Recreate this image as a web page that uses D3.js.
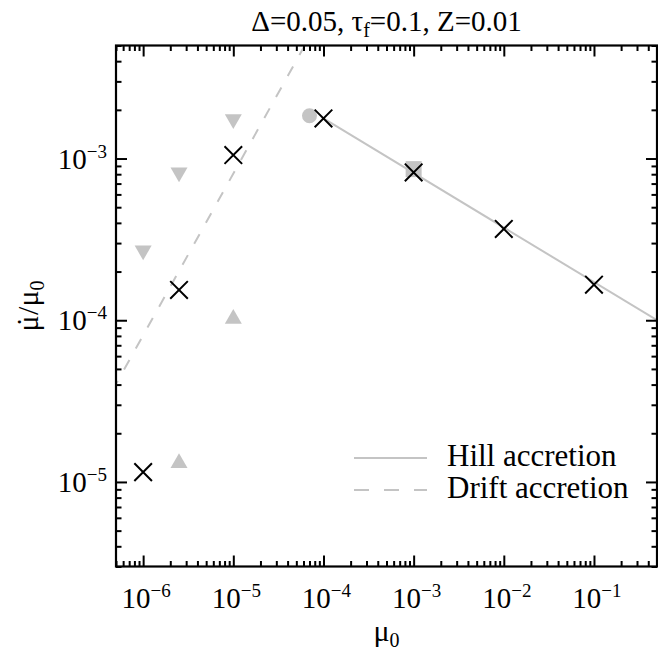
<!DOCTYPE html>
<html><head><meta charset="utf-8">
<script src="https://cdn.jsdelivr.net/npm/d3@7"></script>
</head>
<body style="margin:0">
<svg id="s" width="658" height="657"></svg>
<script>
// ---- data ----
const titleText = ["Δ=0.05, τ", "f", "=0.1, Z=0.01"];
const xTickExps = [-6, -5, -4, -3, -2, -1];
const yTickExps = [-5, -4, -3];
const crossX = [1e-6, 2.5e-6, 1e-5, 1e-4, 1e-3, 1e-2, 1e-1];
const crossY = [1.15e-5, 1.54e-4, 1.05e-3, 1.77e-3, 8.2e-4, 3.67e-4, 1.66e-4];
const downTriX = [1e-6, 2.5e-6, 1e-5];
const downTriY = [2.7e-4, 8.2e-4, 1.75e-3];
const upTriX = [2.5e-6, 1e-5];
const upTriY = [1.31e-5, 1.02e-4];
const circleX = [7.0e-5];
const circleY = [1.84e-3];
const squareX = [1e-3];
const squareY = [8.6e-4];
const hillX = [1e-4, 0.5];
const hillY = [1.77e-3, 1.0e-4];
const driftX = [4.5e-7, 6.2e-5];
const driftY = [3.63e-5, 5e-3];
const legendLabels = ["Hill accretion", "Drift accretion"];

// ---- layout ----
const FONT = "'Liberation Serif'";
const svg = d3.select("#s");
const L = 116, R = 657, T = 45.5, B = 566.5;
const gray = "#c4c4c4";
const x = d3.scaleLog().domain([5e-7, 0.5]).range([L, R]);
const y = d3.scaleLog().domain([3e-6, 5e-3]).range([B, T]);

// text first (same order as a plain text page)
const fs = 29, sfs = 19;
xTickExps.forEach(e => {
  const t = svg.append("text").attr("x", x(Math.pow(10, e)) + 3).attr("y", 608)
    .attr("text-anchor", "middle").attr("font-size", fs).style("font-family", FONT);
  t.append("tspan").style("font-family", FONT).text("10");
  t.append("tspan").style("font-family", FONT).attr("font-size", sfs).attr("dy", -11).text("−" + (-e));
});
yTickExps.forEach(e => {
  const t = svg.append("text").attr("x", 107).attr("y", y(Math.pow(10, e)) + 10)
    .attr("text-anchor", "end").attr("font-size", fs).style("font-family", FONT);
  t.append("tspan").style("font-family", FONT).text("10");
  t.append("tspan").style("font-family", FONT).attr("font-size", sfs).attr("dy", -11).text("−" + (-e));
});

const tt = svg.append("text").attr("x", (L + R) / 2).attr("y", 31)
  .attr("text-anchor", "middle").attr("font-size", 29).style("font-family", FONT);
tt.append("tspan").style("font-family", FONT).text(titleText[0]);
tt.append("tspan").style("font-family", FONT).attr("font-size", 20).attr("dy", 6).text(titleText[1]);
tt.append("tspan").style("font-family", FONT).attr("dy", -6).text(titleText[2]);

const xl = svg.append("text").attr("x", (L + R) / 2).attr("y", 641)
  .attr("text-anchor", "middle").attr("font-size", 30).style("font-family", FONT);
xl.append("tspan").style("font-family", FONT).text("μ");
xl.append("tspan").style("font-family", FONT).attr("font-size", 20).attr("dy", 6).text("0");

const yl = svg.append("text").attr("transform", `translate(38,${(T + B) / 2}) rotate(-90)`)
  .attr("text-anchor", "middle").attr("font-size", 30).style("font-family", FONT);
yl.append("tspan").style("font-family", FONT).text("μ");
yl.append("tspan").style("font-family", FONT).attr("dx", -11.5).text("˙");
yl.append("tspan").style("font-family", FONT).attr("dx", 2).text("/μ");
yl.append("tspan").style("font-family", FONT).attr("font-size", 20).attr("dy", 6).text("0");

legendLabels.forEach((lab, i) => {
  const ly = 458 + i * 32;
  svg.append("line").attr("x1", 354).attr("x2", 427).attr("y1", ly).attr("y2", ly)
    .attr("stroke", gray).attr("stroke-width", 2)
    .attr("stroke-dasharray", i === 1 ? "15,15" : null);
  svg.append("text").attr("x", 447).attr("y", ly + 8).attr("font-size", 31)
    .style("font-family", FONT).text(lab);
});

// ---- plot area ----
const defs = svg.append("defs");
defs.append("clipPath").attr("id", "clipArea").append("rect")
  .attr("x", L).attr("y", T).attr("width", R - L).attr("height", B - T);
const plot = svg.append("g").attr("clip-path", "url(#clipArea)");

const line = d3.line().x(d => x(d[0])).y(d => y(d[1]));
plot.append("path").datum(hillX.map((v, i) => [v, hillY[i]]))
  .attr("d", line).attr("fill", "none").attr("stroke", gray).attr("stroke-width", 2);
plot.append("path").datum(driftX.map((v, i) => [v, driftY[i]]).reverse())
  .attr("d", line).attr("fill", "none").attr("stroke", gray).attr("stroke-width", 2)
  .attr("stroke-dasharray", "11,13");

const tri = d3.symbol().type(d3.symbolTriangle).size(125);
plot.selectAll(".td").data(downTriX.map((v, i) => [v, downTriY[i]])).join("path")
  .attr("d", tri).attr("fill", gray)
  .attr("transform", d => `translate(${x(d[0])},${y(d[1])}) rotate(180)`);
plot.selectAll(".tu").data(upTriX.map((v, i) => [v, upTriY[i]])).join("path")
  .attr("d", tri).attr("fill", gray)
  .attr("transform", d => `translate(${x(d[0])},${y(d[1])})`);
plot.selectAll(".ci").data(circleX.map((v, i) => [v, circleY[i]])).join("circle")
  .attr("cx", d => x(d[0])).attr("cy", d => y(d[1])).attr("r", 7.5).attr("fill", gray);
plot.selectAll(".sq").data(squareX.map((v, i) => [v, squareY[i]])).join("rect")
  .attr("x", d => x(d[0]) - 8).attr("y", d => y(d[1]) - 8)
  .attr("width", 16).attr("height", 16).attr("fill", gray);

const cs = 8.8;
plot.selectAll(".cr").data(crossX.map((v, i) => [v, crossY[i]])).join("path")
  .attr("d", d => {
    const cx = x(d[0]), cy = y(d[1]);
    return `M${cx - cs},${cy - cs}L${cx + cs},${cy + cs}M${cx - cs},${cy + cs}L${cx + cs},${cy - cs}`;
  })
  .attr("stroke", "#000").attr("stroke-width", 2).attr("fill", "none");

// ---- axes (ticks inward on all four sides) ----
const majorX = xTickExps.map(e => Math.pow(10, e));
const minorX = [];
for (let e = -7; e <= -1; e++) for (let m = 2; m <= 9; m++) {
  const v = m * Math.pow(10, e);
  if (v >= 5e-7 && v <= 0.5) minorX.push(v);
}
const majorY = yTickExps.map(e => Math.pow(10, e));
const minorY = [];
for (let e = -6; e <= -3; e++) for (let m = 2; m <= 9; m++) {
  const v = m * Math.pow(10, e);
  if (v >= 3e-6 && v <= 5e-3) minorY.push(v);
}
function styleAxis(g) {
  g.select(".domain").remove();
  g.selectAll("line").attr("stroke", "#000").attr("stroke-width", 2);
  g.selectAll("text").remove();
}
svg.append("g").attr("transform", `translate(0,${B})`)
  .call(d3.axisBottom(x).tickValues(majorX).tickSize(-11).tickFormat("")).call(styleAxis);
svg.append("g").attr("transform", `translate(0,${B})`)
  .call(d3.axisBottom(x).tickValues(minorX).tickSize(-5.5).tickFormat("")).call(styleAxis);
svg.append("g").attr("transform", `translate(0,${T})`)
  .call(d3.axisTop(x).tickValues(majorX).tickSize(-11).tickFormat("")).call(styleAxis);
svg.append("g").attr("transform", `translate(0,${T})`)
  .call(d3.axisTop(x).tickValues(minorX).tickSize(-5.5).tickFormat("")).call(styleAxis);
svg.append("g").attr("transform", `translate(${L},0)`)
  .call(d3.axisLeft(y).tickValues(majorY).tickSize(-11).tickFormat("")).call(styleAxis);
svg.append("g").attr("transform", `translate(${L},0)`)
  .call(d3.axisLeft(y).tickValues(minorY).tickSize(-5.5).tickFormat("")).call(styleAxis);
svg.append("g").attr("transform", `translate(${R},0)`)
  .call(d3.axisRight(y).tickValues(majorY).tickSize(-11).tickFormat("")).call(styleAxis);
svg.append("g").attr("transform", `translate(${R},0)`)
  .call(d3.axisRight(y).tickValues(minorY).tickSize(-5.5).tickFormat("")).call(styleAxis);

svg.append("rect").attr("x", L).attr("y", T).attr("width", R - L).attr("height", B - T)
  .attr("fill", "none").attr("stroke", "#000").attr("stroke-width", 2.2);
</script>
</body></html>
